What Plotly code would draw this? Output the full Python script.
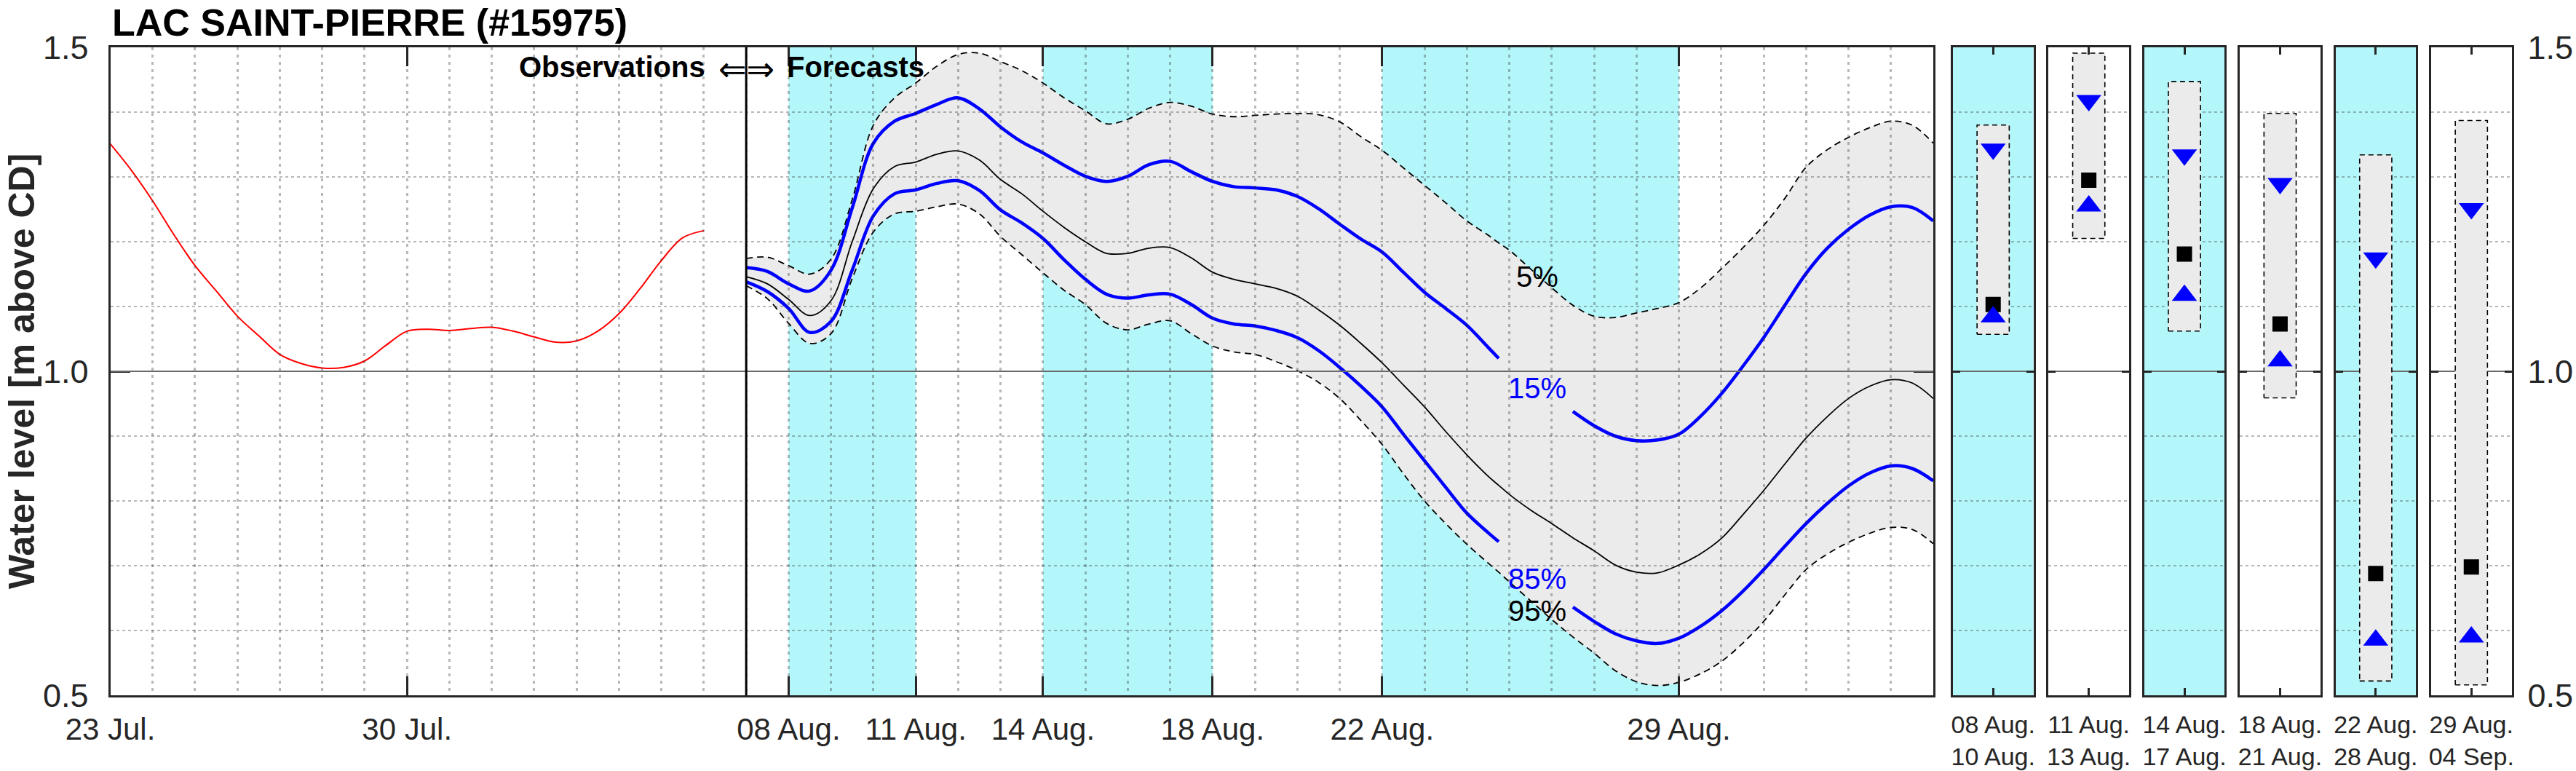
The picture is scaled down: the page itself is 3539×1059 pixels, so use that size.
import pandas as pd
import plotly.graph_objects as go

W, H = 3539, 1059
FONT = "Liberation Sans, Arial, Helvetica, sans-serif"
INK = "#262626"
CYAN = "#b3f7fa"
BAND = "#ebebeb"
BLUE = "#0000ff"
GRID = "rgba(38,38,38,0.33)"
ONE_LINE = "#6a6a6a"

# ---------------- data ----------------
station = "LAC SAINT-PIERRE (#15975)"
y_label = "Water level [m above CD]"

obs_time = pd.date_range("2023-07-23", "2023-08-06", freq="12h")
obs_level = [1.351, 1.310, 1.263, 1.211, 1.163, 1.124, 1.085, 1.055, 1.026, 1.012,
             1.005, 1.006, 1.016, 1.040, 1.062, 1.065, 1.063, 1.066, 1.068, 1.062,
             1.053, 1.045, 1.047, 1.062, 1.089, 1.128, 1.171, 1.206, 1.217]

forecast_start = pd.Timestamp("2023-08-07")
axis_end = pd.Timestamp("2023-09-04")
fc_time = (list(pd.date_range("2023-08-07", "2023-08-24 12:00", freq="12h"))
           + [pd.Timestamp("2023-08-24 18:00")]
           + list(pd.date_range("2023-08-25", "2023-09-04", freq="12h")))

p05 = [1.174, 1.176, 1.163, 1.150, 1.173, 1.265, 1.380, 1.422, 1.445, 1.471,
       1.489, 1.491, 1.478, 1.464, 1.445, 1.422, 1.402, 1.382, 1.389, 1.406,
       1.415, 1.409, 1.397, 1.393, 1.395, 1.397, 1.398, 1.396, 1.385, 1.362,
       1.341, 1.314, 1.287, 1.260, 1.232, 1.210,
       1.198,
       1.187, 1.158, 1.129, 1.102, 1.085, 1.083, 1.090, 1.097, 1.106, 1.128,
       1.158, 1.190, 1.225, 1.267, 1.315, 1.342, 1.361, 1.376, 1.386, 1.380, 1.352]
p15 = [1.160, 1.154, 1.135, 1.124, 1.156, 1.252, 1.352, 1.386, 1.398, 1.412,
       1.422, 1.405, 1.377, 1.354, 1.337, 1.318, 1.301, 1.293, 1.301, 1.319,
       1.324, 1.308, 1.293, 1.285, 1.283, 1.280, 1.270, 1.251, 1.227, 1.204,
       1.184, 1.153, 1.122, 1.097, 1.071, 1.037,
       1.020,
       None, None, None, 0.938, 0.916, 0.900, 0.893, 0.894, 0.903, 0.930,
       0.965, 1.007, 1.052, 1.102, 1.151, 1.190, 1.219, 1.241, 1.254, 1.253, 1.232]
p50 = [1.146, 1.135, 1.111, 1.086, 1.109, 1.200, 1.282, 1.316, 1.323, 1.335,
       1.340, 1.326, 1.296, 1.274, 1.247, 1.222, 1.200, 1.182, 1.182, 1.190,
       1.191, 1.175, 1.153, 1.142, 1.135, 1.128, 1.116, 1.095, 1.071, 1.043,
       1.013, 0.979, 0.945, 0.907, 0.871, 0.838,
       0.824,
       0.810, 0.786, 0.765, 0.743, 0.723, 0.701, 0.690, 0.689, 0.701, 0.718,
       0.742, 0.778, 0.816, 0.857, 0.897, 0.930, 0.958, 0.977, 0.987, 0.982, 0.958]
p85 = [1.138, 1.123, 1.097, 1.060, 1.077, 1.156, 1.240, 1.274, 1.280, 1.290,
       1.294, 1.279, 1.249, 1.229, 1.205, 1.172, 1.142, 1.119, 1.113, 1.118,
       1.119, 1.103, 1.082, 1.073, 1.070, 1.063, 1.052, 1.032, 1.006, 0.977,
       0.945, 0.903, 0.862, 0.821, 0.781, 0.751,
       0.737,
       None, None, None, 0.636, 0.614, 0.595, 0.584, 0.580, 0.588, 0.606,
       0.630, 0.660, 0.694, 0.730, 0.765, 0.796, 0.823, 0.843, 0.854, 0.850, 0.831]
p95 = [1.132, 1.112, 1.074, 1.043, 1.058, 1.143, 1.215, 1.243, 1.247, 1.254,
       1.258, 1.243, 1.208, 1.180, 1.152, 1.125, 1.103, 1.074, 1.064, 1.073,
       1.078, 1.058, 1.039, 1.030, 1.026, 1.015, 1.001, 0.983, 0.958, 0.924,
       0.887, 0.842, 0.800, 0.765, 0.733, 0.704,
       0.690,
       0.675, 0.646, 0.617, 0.590, 0.565, 0.538, 0.521, 0.515, 0.520, 0.533,
       0.552, 0.580, 0.614, 0.655, 0.694, 0.718, 0.736, 0.750, 0.759, 0.756, 0.734]

shaded_periods = [("2023-08-08", "2023-08-11"), ("2023-08-14", "2023-08-18"),
                  ("2023-08-22", "2023-08-29")]

main_tickvals = ["2023-07-23", "2023-07-30", "2023-08-08", "2023-08-11",
                 "2023-08-14", "2023-08-18", "2023-08-22", "2023-08-29"]
main_ticktext = ["23 Jul.", "30 Jul.", "08 Aug.", "11 Aug.", "14 Aug.",
                 "18 Aug.", "22 Aug.", "29 Aug."]

pct_labels = ["5%", "15%", "85%", "95%"]
pct_label_y = [1.146, 0.974, 0.680, 0.630]
pct_label_color = ["black", BLUE, BLUE, "black"]
pct_label_time = "2023-08-25 16:00"

period_start = ["08 Aug.", "11 Aug.", "14 Aug.", "18 Aug.", "22 Aug.", "29 Aug."]
period_end = ["10 Aug.", "13 Aug.", "17 Aug.", "21 Aug.", "28 Aug.", "04 Sep."]
period_shaded = [True, False, True, False, True, False]
period_p05 = [1.380, 1.491, 1.447, 1.398, 1.334, 1.387]
period_p15 = [1.343, 1.418, 1.334, 1.290, 1.175, 1.251]
period_p50 = [1.103, 1.295, 1.181, 1.073, 0.688, 0.698]
period_p85 = [1.084, 1.255, 1.117, 1.016, 0.585, 0.590]
period_p95 = [1.057, 1.205, 1.062, 0.959, 0.522, 0.516]

y_range = [0.5, 1.5]
y_major = [0.5, 1.0, 1.5]
y_minor = [0.6, 0.7, 0.8, 0.9, 1.1, 1.2, 1.3, 1.4]
daily_grid = pd.date_range("2023-07-24", "2023-09-03", freq="D")

# ---------------- geometry (pixels) ----------------
MAIN_X0, MAIN_X1 = 151.5, 2656
PLOT_TOP, PLOT_BOT = 65, 955
PANEL_X0, PANEL_W, PANEL_PITCH = 2683, 110.5, 131.4
BOX_HALF = 0.2


def fx(p):
    return p / W


def fy(p):
    return 1 - p / H


ydom = [fy(PLOT_BOT), fy(PLOT_TOP)]
fig = go.Figure()

# ---------------- main plot traces ----------------
fig.add_trace(go.Scatter(x=fc_time, y=p95, mode="lines", line=dict(width=0, shape="spline"),
                         hoverinfo="skip"))
fig.add_trace(go.Scatter(x=fc_time, y=p05, mode="lines", line=dict(width=0, shape="spline"),
                         fill="tonexty", fillcolor=BAND, hoverinfo="skip"))
for s in (p05, p95):
    fig.add_trace(go.Scatter(x=fc_time, y=s, mode="lines",
                             line=dict(color="black", width=1.8, dash="9px,6px", shape="spline")))
fig.add_trace(go.Scatter(x=fc_time, y=p50, mode="lines",
                         line=dict(color="black", width=1.8, shape="spline")))
for s in (p15, p85):
    fig.add_trace(go.Scatter(x=fc_time, y=s, mode="lines", connectgaps=False,
                             line=dict(color=BLUE, width=4.5, shape="spline")))
fig.add_trace(go.Scatter(x=obs_time, y=obs_level, mode="lines",
                         line=dict(color="#ff0000", width=2, shape="spline")))

# grid overlay subplot (drawn above the main traces)
fig.add_trace(go.Scatter(x=[obs_time[0]], y=[None], xaxis="x2", yaxis="y2",
                         mode="lines", hoverinfo="skip"))

axis_font = dict(family=FONT, size=42, color=INK)
layout_axes = {}
layout_axes["xaxis"] = dict(
    domain=[fx(MAIN_X0), fx(MAIN_X1)], anchor="y", type="date", automargin=False,
    range=[obs_time[0], axis_end], tickmode="array", tickvals=main_tickvals,
    ticktext=main_ticktext, ticks="inside", ticklen=26, tickwidth=2.5, tickcolor=INK,
    showline=True, linecolor=INK, linewidth=3, mirror="ticks", showgrid=False,
    zeroline=False, tickfont=axis_font, ticklabelstandoff=8)
layout_axes["yaxis"] = dict(
    domain=ydom, anchor="x", range=y_range, tickmode="array", tickvals=y_major,
    ticktext=["0.5", "1.0", "1.5"], ticks="inside", ticklen=27, tickwidth=2.5,
    tickcolor=INK, showline=True, linecolor=INK, linewidth=3, mirror="ticks",
    showgrid=False, zeroline=False, tickfont=dict(family=FONT, size=45, color=INK),
    ticklabelstandoff=18, automargin=False)
layout_axes["xaxis2"] = dict(
    domain=[fx(MAIN_X0), fx(MAIN_X1)], anchor="y2", type="date", automargin=False,
    range=[obs_time[0], axis_end], tickmode="array", tickvals=daily_grid,
    showticklabels=False, ticks="", showgrid=True, gridcolor=GRID, gridwidth=2.5,
    griddash="4px,6px", showline=False, zeroline=False)
layout_axes["yaxis2"] = dict(
    domain=ydom, anchor="x2", range=y_range, tickmode="array", tickvals=[1.0],
    showticklabels=False, ticks="", showgrid=True, gridcolor=ONE_LINE, gridwidth=2.2,
    zeroline=False, showline=False, automargin=False,
    minor=dict(tickmode="array", tickvals=y_minor, showgrid=True, gridcolor=GRID,
               gridwidth=2, griddash="4px,4px", ticks=""))

shapes = []
for a, b in shaded_periods:
    shapes.append(dict(type="rect", xref="x", yref="y domain", x0=a, x1=b, y0=0, y1=1,
                       fillcolor=CYAN, line=dict(width=0), layer="below"))
shapes.append(dict(type="line", xref="x", yref="y domain", x0=forecast_start,
                   x1=forecast_start, y0=0, y1=1, line=dict(color="black", width=3),
                   layer="above"))

# ---------------- side panels ----------------
for i in range(6):
    n = i + 3
    xa, ya = f"x{n}", f"y{n}"
    left = PANEL_X0 + i * PANEL_PITCH
    last = i == 5
    layout_axes[f"xaxis{n}"] = dict(
        domain=[fx(left), fx(left + PANEL_W)], anchor=ya, range=[0, 1], automargin=False,
        tickmode="array", tickvals=[0.5], ticktext=[f"{period_start[i]}<br>{period_end[i]}"],
        ticks="inside", ticklen=10, tickwidth=2.5, tickcolor=INK, showline=True,
        linecolor=INK, linewidth=3, mirror="ticks", showgrid=False, zeroline=False,
        tickfont=dict(family=FONT, size=34, color=INK), ticklabelstandoff=8)
    layout_axes[f"yaxis{n}"] = dict(
        domain=ydom, anchor=xa, range=y_range, tickmode="array", automargin=False,
        tickvals=y_major if last else [1.0], ticktext=["0.5", "1.0", "1.5"] if last else ["1.0"],
        showticklabels=last, side="right" if last else "left",
        ticks="inside", ticklen=10, tickwidth=2.5, tickcolor=INK, showline=True,
        linecolor=INK, linewidth=3, mirror="ticks", showgrid=True, gridcolor=ONE_LINE,
        gridwidth=2.2, zeroline=False, tickfont=dict(family=FONT, size=45, color=INK),
        ticklabelstandoff=10,
        minor=dict(tickmode="array", tickvals=y_minor, showgrid=True, gridcolor=GRID,
                   gridwidth=2, griddash="4px,4px", ticks=""))
    if period_shaded[i]:
        shapes.append(dict(type="rect", xref=f"{xa} domain", yref=f"{ya} domain",
                           x0=0, x1=1, y0=0, y1=1, fillcolor=CYAN,
                           line=dict(width=0), layer="below"))
    lo, hi = period_p95[i], period_p05[i]
    fig.add_trace(go.Scatter(
        x=[0.5 - BOX_HALF, 0.5 + BOX_HALF, 0.5 + BOX_HALF, 0.5 - BOX_HALF, 0.5 - BOX_HALF],
        y=[lo, lo, hi, hi, lo], xaxis=xa, yaxis=ya, mode="lines", fill="toself",
        fillcolor=BAND, line=dict(color="black", width=1.6, dash="7px,5px")))
    fig.add_trace(go.Scatter(x=[0.5], y=[period_p15[i]], xaxis=xa, yaxis=ya, mode="markers",
                             marker=dict(symbol="triangle-down", size=30, color=BLUE)))
    fig.add_trace(go.Scatter(x=[0.5], y=[period_p50[i]], xaxis=xa, yaxis=ya, mode="markers",
                             marker=dict(symbol="square", size=21, color="black")))
    fig.add_trace(go.Scatter(x=[0.5], y=[period_p85[i]], xaxis=xa, yaxis=ya, mode="markers",
                             marker=dict(symbol="triangle-up", size=30, color=BLUE)))

# ---------------- annotations ----------------
ann = []
ann.append(dict(text=station, xref="paper", yref="paper", x=fx(MAIN_X0), y=1,
                xanchor="left", yanchor="top", showarrow=False,
                font=dict(family=FONT, size=52, color="black", weight="bold")))
ann.append(dict(text=y_label, xref="paper", yref="paper", x=0, y=fy((PLOT_TOP + PLOT_BOT) / 2),
                xanchor="left", yanchor="middle", textangle=-90, showarrow=False,
                font=dict(family=FONT, size=50, color=INK, weight="bold")))
ann.append(dict(text="Observations", xref="x", yref="paper", x=forecast_start, y=fy(92),
                xanchor="right", yanchor="middle", xshift=-54, showarrow=False,
                font=dict(family=FONT, size=40, color="black", weight="bold")))
ann.append(dict(text="⇐⇒", xref="x", yref="paper", x=forecast_start, y=fy(95),
                xanchor="center", yanchor="middle", showarrow=False,
                font=dict(family="DejaVu Sans", size=46, color="black")))
ann.append(dict(text="Forecasts", xref="x", yref="paper", x=forecast_start, y=fy(92),
                xanchor="left", yanchor="middle", xshift=54, showarrow=False,
                font=dict(family=FONT, size=40, color="black", weight="bold")))
for t, yv, c in zip(pct_labels, pct_label_y, pct_label_color):
    ann.append(dict(text=t, xref="x", yref="y", x=pct_label_time, y=yv, xanchor="center",
                    yanchor="middle", showarrow=False,
                    font=dict(family=FONT, size=40, color=c)))

fig.update_layout(
    template="none",
    width=W, height=H, autosize=False, margin=dict(l=0, r=0, t=0, b=0, pad=0),
    paper_bgcolor="white", plot_bgcolor="rgba(0,0,0,0)", showlegend=False,
    font=dict(family=FONT, color=INK),
    shapes=shapes, annotations=ann, **layout_axes)

fig.write_html("out.html", config={"displayModeBar": False},
               post_script="document.body.style.margin='0';document.body.style.overflow='hidden';")
